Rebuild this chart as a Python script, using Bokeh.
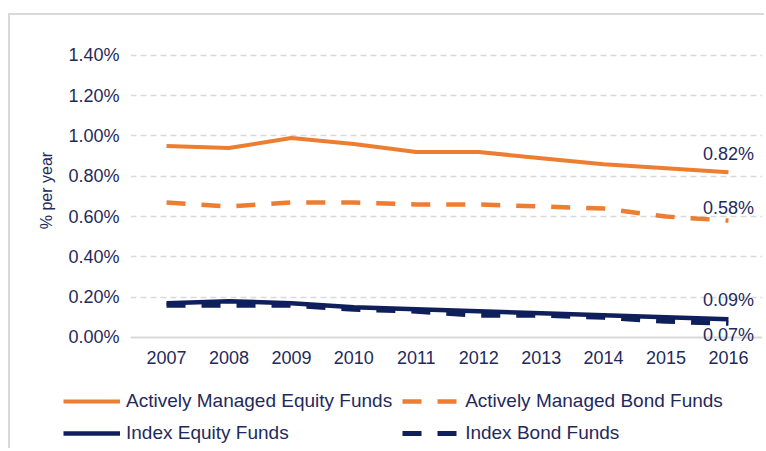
from bokeh.plotting import figure
from bokeh.layouts import column
from bokeh.models import (Range1d, FixedTicker, PrintfTickFormatter, Span, Legend,
                          LegendItem, ColumnDataSource, LabelSet)
from bokeh.core.properties import value
from bokeh.embed import file_html
from bokeh.resources import INLINE

years = [2007, 2008, 2009, 2010, 2011, 2012, 2013, 2014, 2015, 2016]
active_equity = [0.95, 0.94, 0.99, 0.96, 0.92, 0.92, 0.89, 0.86, 0.84, 0.82]
active_bond = [0.67, 0.65, 0.67, 0.67, 0.66, 0.66, 0.65, 0.64, 0.60, 0.58]
index_equity = [0.17, 0.18, 0.17, 0.15, 0.14, 0.13, 0.12, 0.11, 0.10, 0.09]
index_bond = [0.16, 0.16, 0.16, 0.14, 0.13, 0.11, 0.11, 0.10, 0.08, 0.07]
y_ticks = [0.0, 0.2, 0.4, 0.6, 0.8, 1.0, 1.2, 1.4]
series_names = ["Actively Managed Equity Funds", "Actively Managed Bond Funds",
                "Index Equity Funds", "Index Bond Funds"]

ORANGE = "#ED7D31"
NAVY = "#0F1F5C"
TEXT = "#1F2A5C"
GRID = "#D9D9D9"
FONT = "Liberation Sans"

styles = [dict(color=ORANGE, width=4, dash="solid"),
          dict(color=ORANGE, width=4.5, dash="19 16"),
          dict(color=NAVY, width=4.5, dash="solid"),
          dict(color=NAVY, width=5, dash="19 16")]
series = [active_equity, active_bond, index_equity, index_bond]

p = figure(width=754, height=362, output_backend="svg", toolbar_location=None,
           x_range=Range1d(2006.423, 2016.545), y_range=Range1d(-0.04, 1.4988),
           min_border_left=120, min_border_right=2, min_border_top=20,
           min_border_bottom=32)
p.frame_align = False
p.outline_line_color = None
p.background_fill_color = "white"
p.border_fill_color = "white"

p.xgrid.grid_line_color = None
p.ygrid.grid_line_color = GRID
p.ygrid.grid_line_dash = "6 4"
p.ygrid.grid_line_width = 1.5
p.ygrid.ticker = FixedTicker(ticks=y_ticks[1:])

p.add_layout(Span(location=0, dimension="width", line_color=GRID, line_width=2))

p.xaxis.ticker = FixedTicker(ticks=years)
p.yaxis.ticker = FixedTicker(ticks=y_ticks)
p.yaxis.formatter = PrintfTickFormatter(format="%.2f%%")
for ax in (p.xaxis[0], p.yaxis[0]):
    ax.axis_line_color = None
    ax.major_tick_line_color = None
    ax.minor_tick_line_color = None
    ax.major_label_text_font = FONT
    ax.major_label_text_font_size = "18px"
    ax.major_label_text_color = TEXT
p.xaxis.major_label_standoff = -1
p.yaxis.major_label_standoff = 5
p.yaxis.axis_label = "% per year"
p.yaxis.axis_label_text_font = FONT
p.yaxis.axis_label_text_font_size = "16px"
p.yaxis.axis_label_text_font_style = "normal"
p.yaxis.axis_label_text_color = TEXT
p.yaxis.axis_label_standoff = 10

for vals, st in zip(series, styles):
    p.line(years, vals, line_color=st["color"], line_width=st["width"],
           line_dash=st["dash"])

end_vals = [s[-1] for s in series]
src = ColumnDataSource(dict(
    x=[years[-1]] * 4,
    y=end_vals,
    t=["%.2f%%" % v for v in end_vals],
    dy=[18, 13, 19, -12],
))
lbl = LabelSet(x="x", y="y", text="t", source=src, x_offset=0, y_offset="dy",
               text_align="center", text_baseline="middle",
               text_font=value(FONT), text_font_size="18px", text_color=TEXT)
p.add_layout(lbl)

# Legend strip below the chart: hidden copies of the series carry the legend glyphs
lg = figure(width=701, height=58, output_backend="svg", toolbar_location=None,
            x_axis_type=None, y_axis_type=None, min_border=0,
            x_range=Range1d(0, 1), y_range=Range1d(0, 1))
lg.frame_align = False
lg.margin = (13, 0, 0, 53)
lg.outline_line_color = None
lg.grid.grid_line_color = None
lg.border_fill_color = "white"
carriers = []
for vals, st in zip(series, styles):
    carriers.append(lg.line(years, vals, line_color=st["color"], line_width=st["width"],
                            line_dash=st["dash"], visible=False))
order = [0, 2, 1, 3]  # legend fills column by column
legend = Legend(items=[LegendItem(label=series_names[i], renderers=[carriers[i]]) for i in order],
                ncols=2, location="top_left", padding=0, margin=0,
                spacing=10, glyph_width=57, glyph_height=20, label_height=20,
                label_standoff=6, border_line_color=None, background_fill_alpha=0,
                label_text_font=FONT, label_text_font_size="19px",
                label_text_color=TEXT)
lg.add_layout(legend, "center")

layout = column(p, lg, spacing=0)
layout.margin = (13, 0, 0, 8)
layout.styles = {"border-top": "2px solid #D9D9D9", "border-left": "2px solid #D9D9D9"}
open("out.html", "w").write(file_html(layout, INLINE))
